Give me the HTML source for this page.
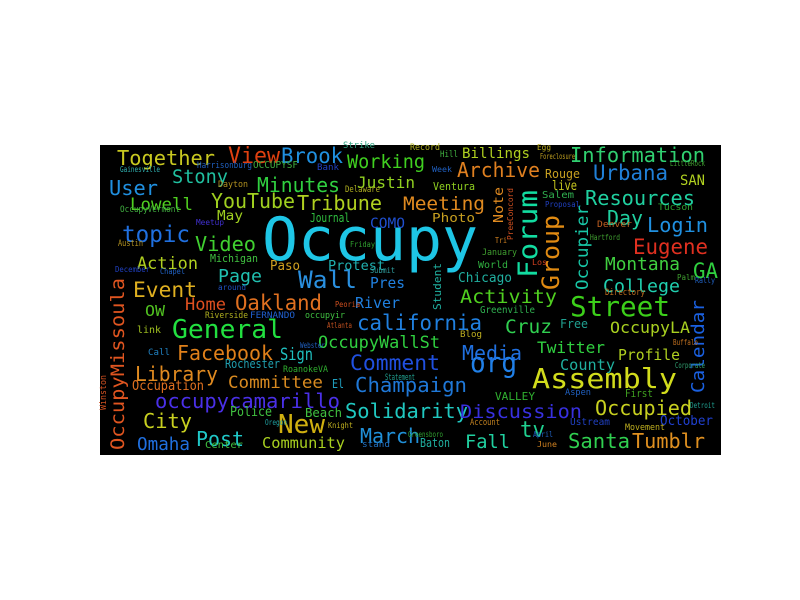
<!DOCTYPE html>
<html><head><meta charset="utf-8"><style>
html,body{margin:0;padding:0;background:#fff;width:800px;height:600px;overflow:hidden}
svg{display:block}
text{font-family:"DejaVu Sans Mono","Liberation Mono",monospace}
</style></head><body>
<svg id="cloud" width="800" height="600" viewBox="0 0 800 600" xmlns="http://www.w3.org/2000/svg">
<rect x="100" y="145" width="621" height="310" fill="#000"/>
<g id="words"></g>
</svg>
<script>
// word, x, baseline y, width, font size, color, vertical
var words = [
["Occupy",262,260,216,60,"#1ec6e6",0],
["Assembly",532,388,145,28,"#d2dc1c",0],
["General",172,338,111,26,"#22e040",0],
["Street",570,316,100,28,"#3ccf1a",0],
["Forum",537,278,88,27,"#12dca0",1],
["Group",559,290,75,24,"#e08a12",1],
["Occupier",588,290,85,17,"#18c8a8",1],
["OccupyMissoula",124,450,172,19,"#e05520",1],
["Calendar",704,393,93,18,"#1a60e0",1],
["org",470,372,47,28,"#2080e8",0],
["Wall",298,288,59,24,"#2a90e0",0],
["Comment",350,370,90,21,"#2050e0",0],
["Champaign",355,392,112,20,"#1f78d8",0],
["Solidarity",345,418,123,20,"#20c8c0",0],
["Discussion",460,418,122,19,"#3830e0",0],
["Facebook",177,360,96,20,"#e0801a",0],
["Library",135,381,83,20,"#e08a20",0],
["Committee",228,388,95,17,"#d88a20",0],
["occupycamarillo",155,408,185,20,"#4a30e8",0],
["City",143,428,49,20,"#c8d020",0],
["Post",196,446,48,20,"#20c8c8",0],
["New",278,433,47,26,"#d0b010",0],
["March",360,443,60,20,"#2090d8",0],
["Omaha",137,450,53,18,"#2070e0",0],
["Community",262,448,83,15,"#a8d020",0],
["Fall",465,448,45,19,"#20d0a0",0],
["tv",520,437,25,22,"#20d090",0],
["Santa",568,448,62,20,"#30d050",0],
["Tumblr",632,448,73,20,"#e09020",0],
["Occupied",595,415,97,20,"#c8d020",0],
["October",660,425,53,13,"#2040d0",0],
["Media",462,360,60,20,"#2070e0",0],
["Twitter",537,353,68,16,"#30d040",0],
["Profile",618,360,62,15,"#b0d020",0],
["County",560,370,55,15,"#20b0a0",0],
["Cruz",505,333,47,19,"#30d050",0],
["OccupyLA",610,333,80,16,"#a8d020",0],
["Activity",460,303,97,19,"#50d020",0],
["california",357,330,125,21,"#2080e0",0],
["OccupyWallSt",318,348,122,17,"#30d040",0],
["River",355,308,45,15,"#2080e0",0],
["Pres",370,288,35,15,"#2080e0",0],
["Home",185,310,41,17,"#e05020",0],
["Oakland",235,310,87,21,"#e07020",0],
["Event",133,297,64,21,"#e0b020",0],
["Page",218,282,44,18,"#20c0b0",0],
["Action",137,269,61,17,"#b0d020",0],
["Video",195,251,61,20,"#40d030",0],
["topic",122,242,68,23,"#2070e0",0],
["User",109,195,49,20,"#2090e0",0],
["Together",117,165,98,20,"#c8c820",0],
["View",228,163,52,22,"#e04010",0],
["Brook",281,163,62,21,"#2090e0",0],
["Working",347,168,78,19,"#40d020",0],
["Stony",172,183,56,19,"#20c0a0",0],
["Minutes",257,192,83,20,"#30d040",0],
["Justin",357,188,58,16,"#90d020",0],
["Lowell",130,210,63,17,"#50d020",0],
["YouTube",211,208,84,20,"#a0d020",0],
["Tribune",297,210,85,20,"#b0d020",0],
["Meeting",403,210,82,19,"#e08a20",0],
["Archive",457,177,83,20,"#e08020",0],
["Billings",462,158,68,14,"#b0d020",0],
["Information",570,162,135,20,"#30d070",0],
["Urbana",593,180,75,21,"#2080d8",0],
["Resources",585,205,110,20,"#20d0a0",0],
["Day",607,225,36,20,"#20d0a0",0],
["Login",647,232,61,20,"#2090e0",0],
["Eugene",633,254,75,21,"#e03020",0],
["Montana",605,270,75,18,"#40d040",0],
["GA",693,278,25,21,"#30d040",0],
["College",603,292,77,18,"#20d0b0",0],
["Chicago",458,282,54,13,"#20b0a0",0],
["SAN",680,185,25,14,"#b0d020",0],
["Ventura",433,190,42,11,"#90d020",0],
["live",552,190,25,13,"#c8c820",0],
["Rouge",545,178,35,12,"#c8a020",0],
["Photo",432,222,43,12,"#c8a020",0],
["Note",503,223,36,13,"#e08a20",1],
["Journal",310,222,40,12,"#30c040",0],
["COMO",370,228,35,14,"#2050d0",0],
["May",217,220,26,13,"#a0d020",0],
["Protest",328,270,57,13,"#20b0b0",0],
["Paso",270,270,30,13,"#d0a020",0],
["Michigan",210,262,48,11,"#40c040",0],
["Student",441,310,47,11,"#20b0a0",1],
["OW",145,316,20,15,"#50c020",0],
["Sign",280,360,33,17,"#20c0c0",0],
["Occupation",132,390,72,13,"#e07020",0],
["Rochester",225,368,55,12,"#20a0b0",0],
["RoanokeVA",283,372,45,9,"#30b030",0],
["Police",230,416,42,13,"#40c040",0],
["Beach",305,417,37,12,"#40c040",0],
["Center",205,448,38,10,"#40c040",0],
["El",332,388,12,12,"#20a0c0",0],
["Riverside",205,318,43,9,"#b0b020",0],
["FERNANDO",250,318,45,9,"#2060d0",0],
["occupyir",305,318,40,9,"#40c040",0],
["link",137,333,24,10,"#a0c020",0],
["Call",148,355,22,9,"#2080c0",0],
["Greenville",480,313,55,10,"#30b050",0],
["Blog",460,337,22,9,"#c0b020",0],
["Free",560,328,28,12,"#20a090",0],
["VALLEY",495,400,40,11,"#30b030",0],
["Aspen",565,395,26,9,"#2060c0",0],
["First",625,397,28,11,"#40a020",0],
["Account",470,425,30,9,"#c08020",0],
["Ustream",570,425,40,10,"#2040c0",0],
["Movement",625,430,40,9,"#c0b020",0],
["Baton",420,447,30,12,"#20b0a0",0],
["World",478,268,30,10,"#30b040",0],
["January",482,255,35,9,"#40a030",0],
["Salem",542,198,32,10,"#30b050",0],
["Tucson",658,210,35,9,"#30a030",0],
["Denver",597,227,35,9,"#c06020",0],
["Directory",605,295,40,9,"#c07020",0],
["Record",410,150,30,9,"#b0b020",0],
["Hill",440,157,18,9,"#40b040",0],
["Strike",343,148,32,9,"#30a080",0],
["Harrisonburg",197,168,55,9,"#2060c0",0],
["OCCUPYSF",253,168,45,10,"#40b040",0],
["Bank",317,170,22,9,"#2040c0",0],
["Gainesville",120,172,40,8,"#30b0b0",0],
["Dayton",218,187,30,9,"#b09020",0],
["Delaware",345,192,35,9,"#b0b020",0],
["OccupyVermont",120,212,60,9,"#40b040",0],
["Meetup",196,225,28,8,"#4030d0",0],
["Austin",118,246,25,9,"#b09020",0],
["December",115,272,35,8,"#2040c0",0],
["Chapel",160,274,25,8,"#2060c0",0],
["around",218,290,28,8,"#2050c0",0],
["Friday",350,247,25,8,"#30a030",0],
["Submit",370,273,25,8,"#30a0a0",0],
["Peoria",335,307,25,8,"#d05020",0],
["Atlanta",327,328,25,8,"#c05020",0],
["Webster",300,348,25,8,"#2060c0",0],
["Oregon",265,425,22,8,"#20a0a0",0],
["Knight",328,428,25,8,"#c0b020",0],
["stand",362,447,28,9,"#2070c0",0],
["Winston",106,410,35,9,"#d05020",1],
["Greensboro",408,437,35,8,"#30a030",0],
["April",533,437,20,8,"#2060c0",0],
["June",537,447,20,8,"#d08020",0],
["Detroit",690,408,25,8,"#20a090",0],
["Corporate",675,368,30,8,"#30a070",0],
["Buffalo",673,345,25,8,"#c07020",0],
["Statement",385,380,30,9,"#20a090",0],
["Tri",495,243,12,8,"#d08020",0],
["Los",532,265,15,8,"#d04020",0],
["PreeConcord",513,240,52,8,"#d05020",1],
["Hartford",590,240,30,8,"#40a030",0],
["Proposal",545,207,35,8,"#2040c0",0],
["LittleRock",670,166,35,8,"#40a030",0],
["Week",432,172,20,8,"#2060c0",0],
["Egg",537,150,14,8,"#c0b020",0],
["Foreclosure",540,159,35,8,"#c0a020",0],
["Rally",695,283,20,8,"#2060c0",0],
["Palm",677,280,18,8,"#40a030",0]
];
var g = document.getElementById('words');
var ns = 'http://www.w3.org/2000/svg';
words.forEach(function(w){
  var t = document.createElementNS(ns,'text');
  
  
  t.setAttribute('font-size', w[4]);
  t.setAttribute('fill', w[5]);
  t.setAttribute('textLength', w[3]);
  t.setAttribute('lengthAdjust', 'spacingAndGlyphs');
  if (w[6]) {
    t.setAttribute('x', 0);
    t.setAttribute('y', 0);
    t.setAttribute('transform', 'translate(' + w[1] + ',' + w[2] + ') rotate(-90)');
  } else {
    t.setAttribute('x', w[1]);
    t.setAttribute('y', w[2]);
  }
  t.textContent = w[0];
  g.appendChild(t);
});
</script>
</body></html>
